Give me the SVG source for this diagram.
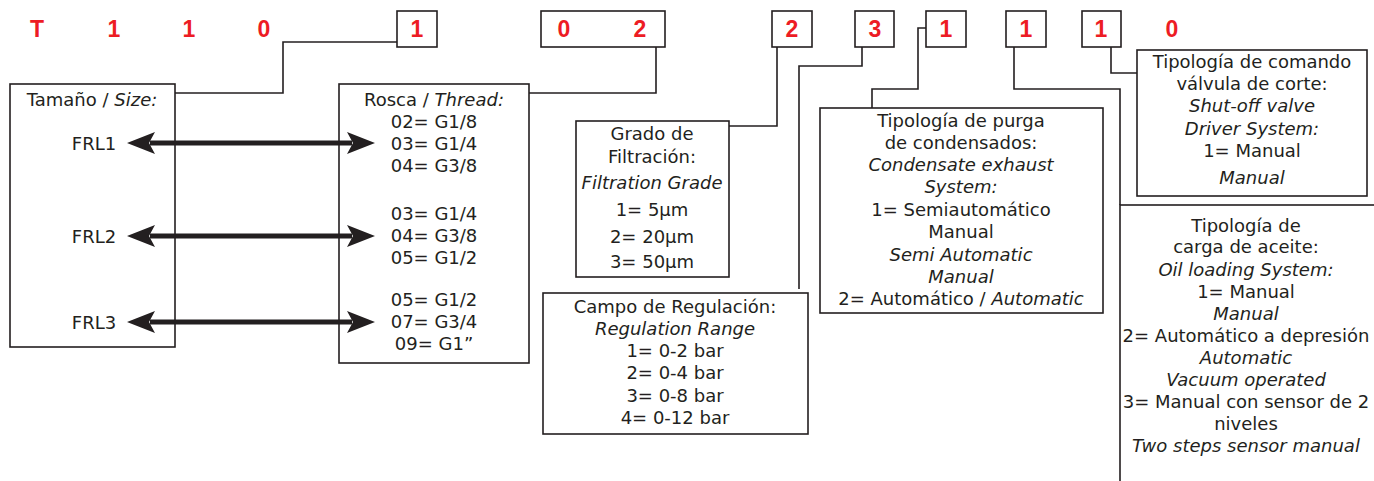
<svg xmlns="http://www.w3.org/2000/svg" width="1374" height="481" viewBox="0 0 1374 481">
<style>
.bg{fill:#ffffff}
.box{fill:#ffffff;stroke:#231f20;stroke-width:1.6}
.cbox{fill:none;stroke:#231f20;stroke-width:1.6}
.con{fill:none;stroke:#231f20;stroke-width:1.6}
.arr{fill:none;stroke:#231f20;stroke-width:5}
.t{font-family:"DejaVu Sans",sans-serif;font-size:18px;fill:#231f20;text-anchor:middle}
.i{font-style:italic}
.r{font-family:"Liberation Sans",Arial,sans-serif;font-weight:bold;font-size:23px;fill:#ed1c24;text-anchor:middle}
</style>
<defs>
<marker id="ah" markerUnits="userSpaceOnUse" markerWidth="28" markerHeight="22" refX="5" refY="11" orient="auto-start-reverse" viewBox="0 0 28 22">
<path d="M0,0 L28,11 L0,22 L6,11 Z" fill="#231f20"/>
</marker>
</defs>
<rect class="bg" x="0" y="0" width="1374" height="481"/>

<g id="code">
<text class="r" x="37" y="37">T</text>
<text class="r" x="114" y="37">1</text>
<text class="r" x="189" y="37">1</text>
<text class="r" x="264" y="37">0</text>
<g id="code-1a"><rect class="cbox" x="397" y="11" width="40" height="36"/><text class="r" x="417" y="37">1</text></g>
<g id="code-02"><rect class="cbox" x="541" y="11" width="124" height="36"/><text class="r" x="564" y="37">0</text><text class="r" x="640" y="37">2</text></g>
<g id="code-2"><rect class="cbox" x="772" y="11" width="40" height="36"/><text class="r" x="792" y="37">2</text></g>
<g id="code-3"><rect class="cbox" x="855" y="11" width="39" height="36"/><text class="r" x="875" y="37">3</text></g>
<g id="code-1b"><rect class="cbox" x="926" y="11" width="40" height="36"/><text class="r" x="946" y="37">1</text></g>
<g id="code-1c"><rect class="cbox" x="1006" y="11" width="40" height="36"/><text class="r" x="1026" y="37">1</text></g>
<g id="code-1d"><rect class="cbox" x="1082" y="11" width="39" height="36"/><text class="r" x="1101" y="37">1</text></g>
<text class="r" x="1172" y="37">0</text>
</g>

<g id="connectors">
<path class="con" d="M397,42 H283 V93 H175"/>
<path class="con" d="M656,47 V93 H529"/>
<path class="con" d="M777,47 V126 H729"/>
<path class="con" d="M862,47 V66 H799 V289"/>
<path class="con" d="M926,28 H918 V89 H872 V108"/>
<path class="con" d="M1014,47 V89 H1120 V205"/>
<path class="con" d="M1111,47 V73 H1137"/>
</g>

<g id="size">
<rect class="box" x="10" y="84" width="165" height="263"/>
<text class="t" x="92" y="106">Tamaño / <tspan class="i">Size:</tspan></text>
<text class="t" x="94" y="150">FRL1</text>
<text class="t" x="94" y="243">FRL2</text>
<text class="t" x="94" y="329">FRL3</text>
</g>

<g id="thread">
<rect class="box" x="339" y="84" width="190" height="279"/>
<text class="t" x="434" y="106">Rosca / <tspan class="i">Thread:</tspan></text>
<text class="t" x="434" y="128">02= G1/8</text>
<text class="t" x="434" y="150">03= G1/4</text>
<text class="t" x="434" y="172">04= G3/8</text>
<text class="t" x="434" y="220">03= G1/4</text>
<text class="t" x="434" y="242">04= G3/8</text>
<text class="t" x="434" y="264">05= G1/2</text>
<text class="t" x="434" y="306">05= G1/2</text>
<text class="t" x="434" y="328">07= G3/4</text>
<text class="t" x="434" y="350">09= G1”</text>
</g>

<g id="arrows">
<line class="arr" x1="150" y1="143" x2="352" y2="143" marker-start="url(#ah)" marker-end="url(#ah)"/>
<line class="arr" x1="150" y1="236" x2="352" y2="236" marker-start="url(#ah)" marker-end="url(#ah)"/>
<line class="arr" x1="150" y1="322" x2="352" y2="322" marker-start="url(#ah)" marker-end="url(#ah)"/>
</g>

<g id="filtration">
<rect class="box" x="576" y="121" width="153" height="156"/>
<text class="t" x="652" y="140">Grado de</text>
<text class="t" x="652" y="163">Filtración:</text>
<text class="t i" x="652" y="189">Filtration Grade</text>
<text class="t" x="652" y="216">1= 5µm</text>
<text class="t" x="652" y="243">2= 20µm</text>
<text class="t" x="652" y="268">3= 50µm</text>
</g>

<g id="regulation">
<rect class="box" x="543" y="293" width="265" height="141"/>
<text class="t" x="675" y="313">Campo de Regulación:</text>
<text class="t i" x="675" y="335">Regulation Range</text>
<text class="t" x="675" y="357">1= 0-2 bar</text>
<text class="t" x="675" y="379">2= 0-4 bar</text>
<text class="t" x="675" y="402">3= 0-8 bar</text>
<text class="t" x="675" y="424">4= 0-12 bar</text>
</g>

<g id="condensate">
<rect class="box" x="820" y="108" width="283" height="205"/>
<text class="t" x="961" y="127">Tipología de purga</text>
<text class="t" x="961" y="149">de condensados:</text>
<text class="t i" x="961" y="171">Condensate exhaust</text>
<text class="t i" x="961" y="193">System:</text>
<text class="t" x="961" y="216">1= Semiautomático</text>
<text class="t" x="961" y="238">Manual</text>
<text class="t i" x="961" y="261">Semi Automatic</text>
<text class="t i" x="961" y="283">Manual</text>
<text class="t" x="961" y="305">2= Automático / <tspan class="i">Automatic</tspan></text>
</g>

<g id="shutoff">
<rect class="box" x="1137" y="50" width="230" height="146"/>
<text class="t" x="1252" y="68">Tipología de comando</text>
<text class="t" x="1252" y="90">válvula de corte:</text>
<text class="t i" x="1252" y="112">Shut-off valve</text>
<text class="t i" x="1252" y="135">Driver System:</text>
<text class="t" x="1252" y="157">1= Manual</text>
<text class="t i" x="1252" y="184">Manual</text>
</g>

<g id="oil">
<rect class="box" x="1120" y="205" width="262" height="290"/>
<text class="t" x="1246" y="232">Tipología de</text>
<text class="t" x="1246" y="253">carga de aceite:</text>
<text class="t i" x="1246" y="276">Oil loading System:</text>
<text class="t" x="1246" y="298">1= Manual</text>
<text class="t i" x="1246" y="320">Manual</text>
<text class="t" x="1246" y="342">2= Automático a depresión</text>
<text class="t i" x="1246" y="364">Automatic</text>
<text class="t i" x="1246" y="386">Vacuum operated</text>
<text class="t" x="1246" y="408">3= Manual con sensor de 2</text>
<text class="t" x="1246" y="430">niveles</text>
<text class="t i" x="1246" y="452">Two steps sensor manual</text>
</g>
</svg>
